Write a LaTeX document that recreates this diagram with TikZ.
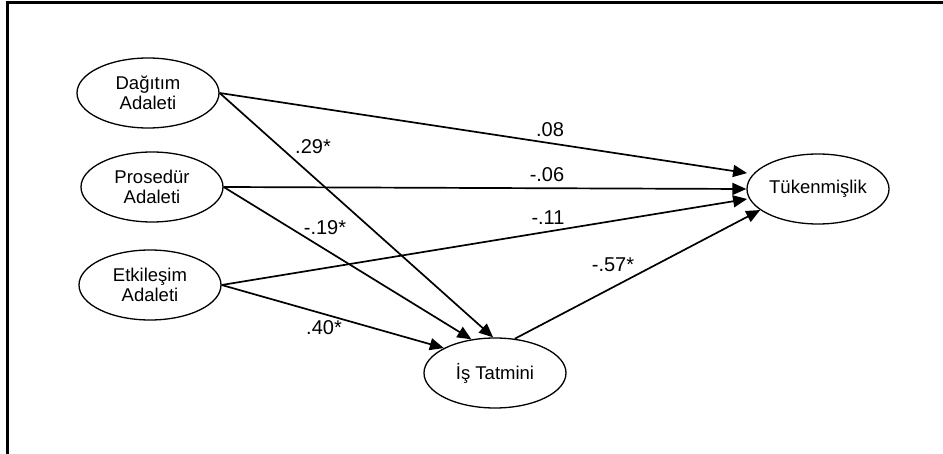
\documentclass[tikz,border=0pt]{standalone}
\usepackage{fontspec}
\setmainfont{Liberation Sans}
\usetikzlibrary{shapes.geometric,arrows.meta}
\begin{document}
\begin{tikzpicture}[x=1pt,y=-1pt,
  lat/.style={ellipse,draw,line width=1.3pt,minimum width=142pt,minimum height=70pt,inner sep=0pt,align=center,font=\fontsize{18.5}{20.5}\selectfont},
  arr/.style={line width=1.7pt,-{Triangle[length=14pt,width=12pt]}},
  lbl/.style={font=\fontsize{20}{22}\selectfont,inner sep=0pt}]
\useasboundingbox (0,0) rectangle (943,454);
\draw[line width=3pt] (7,454) -- (7,2.5) -- (943,2.5);
\node[lat] (dag) at (148,93) {Dağıtım\\Adaleti};
\node[lat] (pro) at (152,187) {Prosedür\\Adaleti};
\node[lat] (etk) at (150,285) {Etkileşim\\Adaleti};
\node[lat] (is) at (495,373) {İş Tatmini};
\node[lat] (tuk) at (818,189) {Tükenmişlik};
\draw[arr,shorten >=6pt] (dag.east) -- (tuk.167);
\draw[arr] (dag.east) -- (is.93);
\draw[arr] (pro.east) -- (tuk.west);
\draw[arr] (pro.east) -- (is.125);
\draw[arr,shorten >=2pt] (etk.east) -- (tuk.188);
\draw[arr] (etk.east) -- (is.154);
\draw[arr] (is.60) -- (tuk.200);
\node[lbl] (l08) at (550,130) {.08};
\node[lbl] (l29) at (313,147) {.29*};
\node[lbl] (l06) at (547,175) {-.06};
\node[lbl] (l19) at (325,228) {-.19*};
\node[lbl] (l11) at (548,218) {-.11};
\node[lbl] (l57) at (613,265) {-.57*};
\node[lbl] (l40) at (324,328) {.40*};
\end{tikzpicture}
\end{document}
